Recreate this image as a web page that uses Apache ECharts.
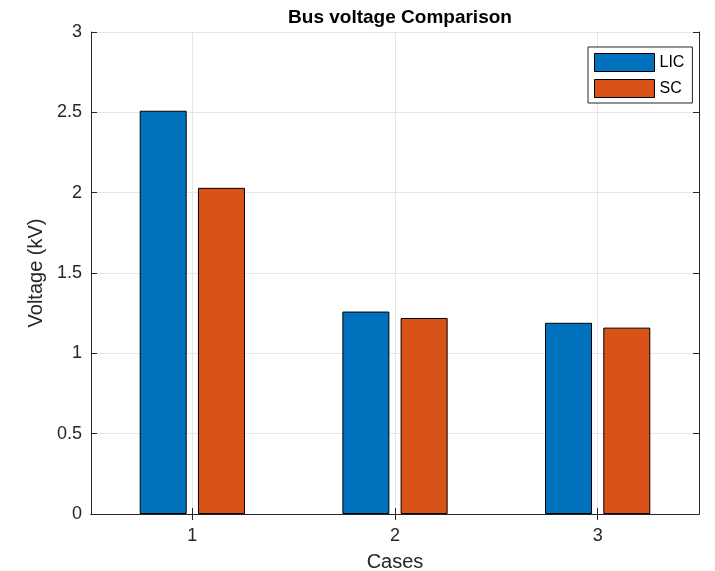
<!DOCTYPE html>
<html>
<head>
<meta charset="utf-8">
<script src="https://cdn.jsdelivr.net/npm/echarts@6/dist/echarts.min.js"></script>
<style>html,body{margin:0;padding:0;background:#fff}#c{width:715px;height:571px}</style>
</head>
<body>
<div id="c"></div>
<script>
const categories = ['1', '2', '3'];
const licValues = [2.51, 1.26, 1.19];
const scValues = [2.03, 1.22, 1.16];
const yTicks = [0, 0.5, 1, 1.5, 2, 2.5, 3];

const FONT = '"Liberation Sans", Arial, Helvetica, sans-serif';
const AX = '#262626';
const chart = echarts.init(document.getElementById('c'), null, {renderer: 'canvas'});
const tickStyle = {show: true, inside: true, length: 6, lineStyle: {color: AX, width: 1}};
chart.setOption({
  animation: false,
  backgroundColor: '#fff',
  title: {
    text: 'Bus voltage Comparison', left: 395, top: 3, textAlign: 'center',
    textStyle: {fontFamily: FONT, fontSize: 19, fontWeight: 'bold', color: '#000'}
  },
  legend: {
    orient: 'vertical', left: 588, top: 47,
    padding: [6, 8, 5, 6], itemGap: 7, itemWidth: 60, itemHeight: 18,
    backgroundColor: '#fff', borderColor: AX, borderWidth: 1, borderRadius: 0,
    icon: 'rect',
    itemStyle: {borderColor: '#000', borderWidth: 1},
    textStyle: {fontFamily: FONT, fontSize: 16, color: '#000'},
    data: ['LIC', 'SC']
  },
  grid: {left: 91, right: 16, top: 32, bottom: 57, containLabel: false, outerBoundsMode: 'none'},
  xAxis: [{
    type: 'category', data: categories, position: 'bottom',
    name: 'Cases', nameLocation: 'middle', nameGap: 38,
    nameTextStyle: {fontFamily: FONT, fontSize: 20, color: AX},
    axisLine: {show: true, lineStyle: {color: AX, width: 1}},
    axisTick: Object.assign({alignWithLabel: true}, tickStyle),
    axisLabel: {fontFamily: FONT, fontSize: 18, color: AX, margin: 13},
    splitLine: {show: false}
  }, {
    type: 'category', data: categories, position: 'top',
    axisLine: {show: true, lineStyle: {color: AX, width: 1}},
    axisTick: Object.assign({alignWithLabel: true}, tickStyle),
    axisLabel: {show: false}, splitLine: {show: false}
  }],
  yAxis: [{
    type: 'value', min: 0, max: 3, interval: 0.5, position: 'left',
    name: 'Voltage (kV)', nameLocation: 'middle', nameGap: 43,
    nameTextStyle: {fontFamily: FONT, fontSize: 20, color: AX},
    axisLine: {show: true, lineStyle: {color: AX, width: 1}},
    axisTick: tickStyle,
    axisLabel: {fontFamily: FONT, fontSize: 18, color: AX, margin: 9,
      formatter: v => String(yTicks.find(t => Math.abs(t - v) < 1e-9) ?? v)},
    splitLine: {show: true, lineStyle: {color: '#e6e6e6', width: 1}}
  }, {
    type: 'value', min: 0, max: 3, interval: 0.5, position: 'right',
    axisLine: {show: true, lineStyle: {color: AX, width: 1}},
    axisTick: tickStyle, axisLabel: {show: false}, splitLine: {show: false}
  }],
  series: [{
    name: 'grid', type: 'line', data: [], silent: true, z: 0,
    markLine: {
      silent: true, symbol: 'none', label: {show: false}, z: 0,
      lineStyle: {color: '#e6e6e6', width: 1, type: 'solid'},
      data: categories.map(c => ({xAxis: c}))
    }
  }, {
    name: 'LIC', type: 'bar', data: licValues, barWidth: 47, barGap: '24%',
    itemStyle: {color: '#0072BD', borderColor: '#000', borderWidth: 1}
  }, {
    name: 'SC', type: 'bar', data: scValues, barWidth: 47, barGap: '24%',
    itemStyle: {color: '#D95319', borderColor: '#000', borderWidth: 1}
  }]
});
</script>
</body>
</html>
